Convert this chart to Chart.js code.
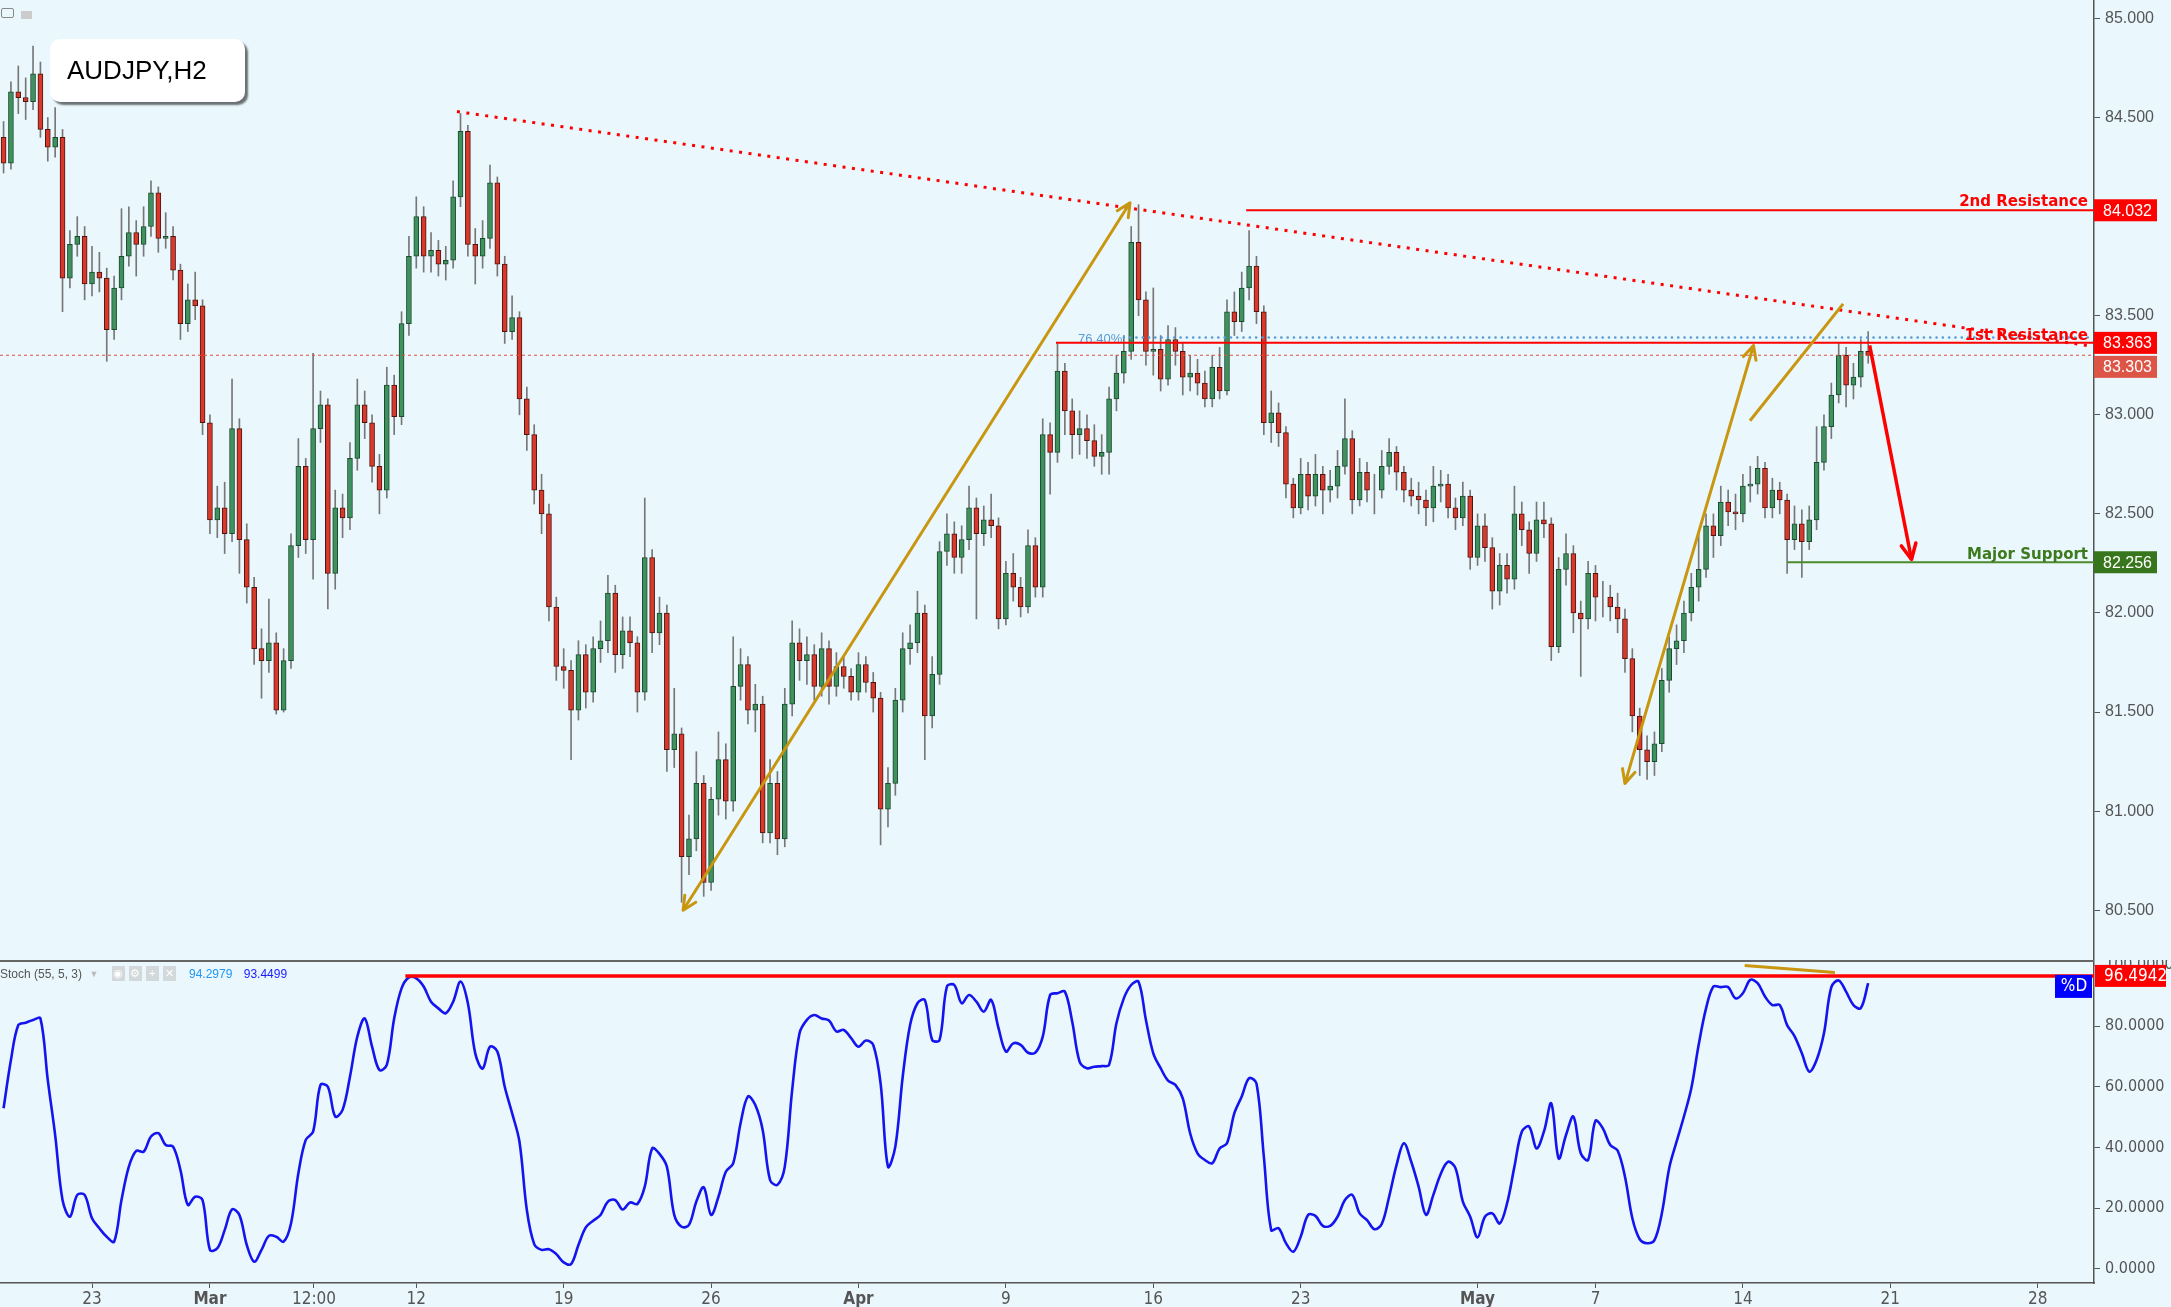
<!DOCTYPE html>
<html>
<head>
<meta charset="utf-8">
<title>AUDJPY,H2</title>
<script src="https://cdn.jsdelivr.net/npm/chart.js@4.4.1/dist/chart.umd.min.js"></script>
<style>
  html, body { margin: 0; padding: 0; background: #eaf8fd; }
  body { width: 2171px; height: 1307px; position: relative; overflow: hidden; font-family: 'Liberation Sans', Arial, sans-serif; }
  #price { position: absolute; left: 0; top: 0; }
  #stoch { position: absolute; left: 0; top: 960px; }
  .title { position: absolute; left: 50px; top: 39px; width: 195px; height: 63px; background: #fff; border-radius: 10px;
           box-shadow: 3px 3px 2px rgba(0,0,0,0.55); font-size: 26px; line-height: 63px; padding-left: 17px; box-sizing: border-box; color: #000; }
  .legend { position: absolute; left: 0; top: 966px; font-size: 12px; color: #555; white-space: nowrap; }
  .legend span { display: inline-block; vertical-align: middle; }
  .ico { width: 13px; height: 15px; background: #d3d8da; color: #fff; text-align: center; line-height: 15px; font-size: 11px; margin-right: 4px; }
  .icons { position: absolute; left: 1px; top: 8px; width: 11px; height: 8px; border: 1px solid #888; border-radius: 2px; }
  .flag { position: absolute; left: 21px; top: 11px; width: 11px; height: 8px; background: #ccc; }
</style>
</head>
<body>
<canvas id="price" width="2171" height="960"></canvas>
<canvas id="stoch" width="2171" height="347"></canvas>
<div class="icons"></div><div class="flag"></div>
<div class="title">AUDJPY,H2</div>
<div class="legend">
  <span>Stoch (55, 5, 3)</span>
  <span style="color:#bbb;margin:0 10px 0 4px;font-size:9px;">&#9660;</span>
  <span class="ico">&#9673;</span><span class="ico">&#9881;</span><span class="ico">+</span><span class="ico">&#10005;</span>
  <span style="color:#2196f3;margin-left:6px;">94.2979</span>
  <span style="color:#1a1aff;margin-left:8px;">93.4499</span>
</div>
<script>
// H2 chart resampled to 4 bars per trading day; day 0 = Mon 19 Feb 2018
const firstOpen = 84.40;
const closes = [
  84.27,84.63,84.60,84.58,84.72,84.44,84.35,84.40,83.69,83.86,83.90,83.66,83.72,83.69,83.43,83.64,83.80,83.92,83.86,83.95,
  84.12,83.89,83.90,83.73,83.46,83.58,83.55,82.96,82.47,82.53,82.40,82.93,82.37,82.13,81.82,81.76,81.85,81.51,81.76,82.34,
  82.74,82.37,82.93,83.05,82.20,82.53,82.48,82.78,83.05,82.96,82.74,82.62,83.15,82.99,83.46,83.80,84.00,83.80,83.83,83.76,
  83.78,84.10,84.43,83.86,83.80,83.89,84.17,83.76,83.42,83.49,83.08,82.90,82.62,82.50,82.03,81.73,
  81.71,81.51,81.79,81.60,81.82,81.86,82.10,81.79,81.91,81.85,81.60,82.28,81.90,82.00,81.31,81.39,80.77,80.86,81.14,80.64,
  81.06,81.26,81.05,81.63,81.74,81.51,81.54,80.89,81.14,80.86,81.54,81.85,81.76,81.79,81.63,81.82,81.63,81.73,81.68,81.60,
  81.74,81.65,81.57,81.01,81.14,81.56,81.82,81.85,82.00,81.48,81.69,82.31,82.40,82.28,82.37,82.53,82.40,82.47,82.44,81.97,
  82.20,82.13,82.03,82.34,82.13,82.90,82.81,83.22,83.02,82.90,82.93,
  82.87,82.79,82.81,83.08,83.21,83.32,83.87,83.58,83.32,83.33,83.18,83.38,83.32,83.19,83.21,83.16,83.08,83.24,83.12,83.52,
  83.47,83.64,83.75,83.52,82.96,83.01,82.91,82.65,82.53,82.70,82.59,82.70,82.62,82.64,82.74,82.88,82.57,82.71,82.62,82.62,
  82.74,82.81,82.71,82.62,82.59,82.57,82.53,82.64,82.65,82.53,82.48,82.59,82.28,82.44,82.33,82.11,82.24,82.17,82.50,82.42,
  82.30,82.47,82.45,81.83,82.22,82.30,82.00,81.97,82.20,82.08,82.08,82.03,81.97,81.77,81.48,
  81.31,81.25,81.34,81.66,81.82,81.86,82.00,82.13,82.22,82.44,82.39,82.56,82.51,82.50,82.64,82.65,82.73,82.53,82.62,82.57,
  82.37,82.45,82.36,82.47,82.76,82.94,83.10,83.30,83.15,83.19,83.32,83.30
];
const highs = [
  84.48,84.68,84.76,84.70,84.86,84.78,84.50,84.55,84.44,83.93,84.00,83.95,83.85,83.82,83.74,83.70,84.04,84.05,83.98,84.05,
  84.18,84.15,84.02,83.95,83.76,83.66,83.72,83.58,83.00,82.64,82.66,83.18,82.98,82.45,82.18,81.92,82.07,81.90,81.82,82.40,
  82.88,82.78,83.31,83.12,83.08,82.62,82.60,82.86,83.18,83.12,83.00,82.80,83.24,83.20,83.52,83.90,84.10,84.05,83.92,83.88,
  83.85,84.18,84.52,84.46,83.94,83.98,84.26,84.20,83.80,83.60,83.52,83.14,82.95,82.70,82.55,82.08,
  81.82,81.76,81.86,81.84,81.88,81.96,82.19,82.14,81.98,81.98,81.88,82.58,82.32,82.08,82.04,81.62,81.42,80.98,81.30,81.18,
  81.12,81.40,81.34,81.88,81.82,81.78,81.64,81.58,81.26,81.20,81.62,81.96,81.92,81.88,81.84,81.90,81.86,81.80,81.78,81.72,
  81.80,81.78,81.70,81.60,81.22,81.62,81.90,81.94,82.11,82.04,81.78,82.36,82.50,82.46,82.44,82.64,82.58,82.54,82.60,82.48,
  82.26,82.30,82.18,82.42,82.38,82.98,82.96,83.36,83.26,83.08,83.02,
  83.00,82.95,82.90,83.14,83.30,83.40,83.95,84.06,83.62,83.64,83.40,83.45,83.44,83.36,83.30,83.28,83.22,83.30,83.34,83.58,
  83.62,83.72,83.93,83.80,83.55,83.12,83.06,82.94,82.68,82.78,82.76,82.80,82.74,82.72,82.82,83.08,82.92,82.78,82.76,82.70,
  82.82,82.88,82.84,82.74,82.68,82.66,82.62,82.74,82.72,82.70,82.58,82.66,82.62,82.50,82.50,82.38,82.30,82.30,82.64,82.56,
  82.46,82.56,82.56,82.48,82.28,82.40,82.34,82.06,82.26,82.24,82.16,82.14,82.10,82.02,81.82,
  81.52,81.38,81.40,81.72,81.88,81.94,82.06,82.20,82.41,82.50,82.50,82.64,82.62,82.60,82.70,82.74,82.79,82.76,82.68,82.66,
  82.60,82.54,82.52,82.54,82.94,83.00,83.16,83.36,83.34,83.26,83.38,83.42
];
const lows = [
  84.22,84.24,84.52,84.49,84.54,84.40,84.28,84.30,83.52,83.64,83.80,83.58,83.60,83.62,83.27,83.38,83.58,83.75,83.70,83.80,
  83.90,83.82,83.84,83.68,83.38,83.42,83.48,82.90,82.40,82.38,82.30,82.36,82.20,82.05,81.74,81.57,81.70,81.49,81.50,81.72,
  82.28,82.30,82.17,82.86,82.02,82.12,82.38,82.42,82.72,82.88,82.66,82.50,82.58,82.90,82.95,83.40,83.74,83.72,83.72,83.70,
  83.68,83.74,84.05,83.80,83.66,83.74,83.84,83.70,83.36,83.38,83.00,82.82,82.55,82.40,81.96,81.66,
  81.62,81.26,81.46,81.52,81.55,81.75,81.80,81.70,81.72,81.78,81.50,81.56,81.80,81.84,81.20,81.22,80.54,80.68,80.80,80.57,
  80.60,80.98,80.96,81.00,81.56,81.44,81.40,80.84,80.84,80.78,80.82,81.48,81.66,81.64,81.56,81.58,81.54,81.58,81.62,81.56,
  81.56,81.60,81.50,80.83,80.92,81.08,81.50,81.74,81.80,81.26,81.42,81.64,82.24,82.20,82.20,82.32,81.97,82.34,82.38,81.92,
  81.94,82.06,81.98,82.00,82.08,82.08,82.60,82.76,82.90,82.78,82.80,
  82.78,82.74,82.70,82.70,83.02,83.16,83.28,83.50,83.25,83.20,83.12,83.15,83.25,83.10,83.12,83.10,83.04,83.04,83.08,83.10,
  83.40,83.42,83.58,83.46,82.90,82.86,82.84,82.58,82.48,82.50,82.52,82.54,82.50,82.56,82.58,82.70,82.50,82.54,82.56,82.50,
  82.58,82.70,82.62,82.56,82.54,82.50,82.44,82.46,82.56,82.48,82.42,82.44,82.22,82.24,82.26,82.02,82.04,82.10,82.12,82.34,
  82.20,82.26,82.38,81.76,81.80,82.14,81.90,81.68,81.92,81.96,81.98,81.96,81.90,81.70,81.40,
  81.18,81.16,81.18,81.30,81.60,81.74,81.80,81.96,82.06,82.18,82.28,82.34,82.44,82.42,82.46,82.56,82.60,82.48,82.48,82.50,
  82.20,82.32,82.18,82.32,82.42,82.72,82.88,83.06,83.04,83.08,83.14,83.26
];
// Stochastic %D, one value per bar
const stochD = [
  52.9,68.8,80.3,81.1,82.0,82.5,62.2,44.1,22.7,17.2,24.4,24.4,16.7,13.4,10.6,9.0,22.7,33.7,38.9,38.6,
  43.6,44.7,40.8,40.3,32.6,21.1,23.8,22.7,6.3,6.8,12.8,19.6,17.8,7.9,2.4,6.3,10.9,10.6,9.0,15.0,
  31.5,42.5,45.2,60.6,60.0,50.2,52.4,63.3,76.5,82.5,73.2,65.5,67.2,82.5,92.4,96.0,95.7,93.0,88.0,85.8,
  84.2,88.0,94.6,87.5,71.0,66.0,73.2,71.6,60.0,51.3,41.9,19.4,8.2,6.3,6.5,4.9,
  2.2,1.6,7.9,13.7,15.9,17.8,22.2,22.7,19.6,21.9,21.4,27.1,39.7,37.9,33.7,17.8,13.9,14.5,22.2,26.9,
  17.8,23.8,32.0,34.8,48.0,56.8,54.0,45.8,29.3,27.7,33.7,58.9,77.6,82.0,83.6,82.5,81.8,78.2,78.7,76.0,
  73.2,75.2,73.8,61.1,33.7,40.3,63.3,80.3,87.5,88.6,75.4,75.4,93.0,93.5,87.5,90.2,88.0,84.7,88.6,79.3,
  71.6,74.3,73.8,71.2,71.2,76.5,90.2,90.8,91.3,81.4,68.3,
  66.1,66.6,66.8,67.2,80.9,89.1,93.5,94.6,82.0,71.0,66.1,62.0,60.6,56.2,44.7,38.1,35.9,34.8,39.7,41.4,
  51.3,56.8,62.8,61.1,37.0,12.8,13.4,8.5,5.7,10.6,17.8,17.5,14.2,14.2,17.2,22.7,24.4,18.3,16.1,13.1,
  14.8,23.8,34.2,41.4,35.3,27.1,17.8,24.4,31.3,35.3,33.2,22.2,17.2,10.4,17.2,18.3,15.0,21.6,33.7,45.2,
  46.9,39.7,45.2,54.5,36.4,44.1,50.2,38.1,35.9,48.8,46.3,40.8,39.0,30.4,16.7,
  9.8,8.5,9.5,18.3,33.2,41.9,50.2,59.5,73.8,85.8,93.0,92.8,92.8,89.1,90.8,95.2,94.1,89.7,86.9,86.9,
  80.3,76.7,71.0,65.0,68.8,77.6,92.8,95.0,91.3,86.9,85.9,94.1
];
const dayTicks = [4, 8, 11.53, 15, 20, 25, 30, 35, 40, 45, 51, 55, 60, 65, 70];
const dayLabels = ['23', 'Mar', '12:00', '12', '19', '26', 'Apr', '9', '16', '23', 'May', '7', '14', '21', '28'];
const priceTicks = [80.5, 81, 81.5, 82, 82.5, 83, 83.5, 84, 84.5, 85];
const stochTicks = [0, 20, 40, 60, 80, 100];

const resistance2 = 84.032;
const resistance1 = 83.363;
const fib764 = 83.39;
const majorSupport = 82.256;
const lastPrice = 83.303;
const stochLevel = 96.4942;

const firstBarDay = 1;
const barsPerDay = 4;
const X_MIN = 0.879, X_MAX = 71.91;
const AXIS_W = 77;

const barDays = closes.map((_, i) => firstBarDay + i / barsPerDay);
const opens = closes.map((c, i) => (i === 0 ? firstOpen : closes[i - 1]));

const axisFont = "'Liberation Sans', Arial, sans-serif";
const narrowFont = "'Liberation Sans Narrow', 'DejaVu Sans Condensed', sans-serif";
const boldFont = "'DejaVu Sans', Verdana, sans-serif";

function seg(ctx, x1, y1, x2, y2, color, width, dash, cap) {
  ctx.save();
  ctx.beginPath();
  ctx.strokeStyle = color;
  ctx.lineWidth = width;
  ctx.lineCap = cap || 'butt';
  ctx.setLineDash(dash || []);
  ctx.moveTo(x1, y1);
  ctx.lineTo(x2, y2);
  ctx.stroke();
  ctx.restore();
}

function head(ctx, xt, yt, xf, yf, size, color, width) {
  const a = Math.atan2(yt - yf, xt - xf);
  ctx.save();
  ctx.strokeStyle = color;
  ctx.lineWidth = width;
  ctx.lineCap = 'round';
  ctx.lineJoin = 'round';
  ctx.beginPath();
  ctx.moveTo(xt - size * Math.cos(a - 0.45), yt - size * Math.sin(a - 0.45));
  ctx.lineTo(xt, yt);
  ctx.lineTo(xt - size * Math.cos(a + 0.45), yt - size * Math.sin(a + 0.45));
  ctx.stroke();
  ctx.restore();
}

function label(ctx, text, x, y, color, font, align) {
  ctx.save();
  ctx.font = font;
  ctx.fillStyle = color;
  ctx.textAlign = align || 'left';
  ctx.textBaseline = 'alphabetic';
  ctx.fillText(text, x, y);
  ctx.restore();
}

function axisBox(ctx, left, cy, w, text, bg, font) {
  ctx.save();
  ctx.fillStyle = bg;
  ctx.fillRect(left, cy - 11, w, 22);
  ctx.font = font;
  ctx.fillStyle = '#fff';
  ctx.textBaseline = 'middle';
  ctx.fillText(text, left + 9, cy + 1);
  ctx.restore();
}

const orange = '#c8960f';
const priceOverlay = {
  id: 'priceOverlay',
  afterDatasetsDraw(chart) {
    const { ctx, chartArea: a, scales: { x, y } } = chart;
    const px = (d) => x.getPixelForValue(d);
    const py = (p) => y.getPixelForValue(p);

    // last price, thin dotted
    seg(ctx, a.left, py(lastPrice) + 0.5, a.right, py(lastPrice) + 0.5, '#e0503c', 1, [3, 3]);
    // fibonacci 76.4%
    seg(ctx, px(39.0), py(fib764), a.right, py(fib764), '#5b9bd5', 2.6, [0.1, 6.2], 'round');
    label(ctx, '76.40%', px(37.45), py(fib764) + 5, '#5b9bd5', '13px ' + axisFont);
    // resistances / support
    seg(ctx, px(36.7), py(resistance1), a.right, py(resistance1), '#ff0000', 2);
    seg(ctx, px(43.15), py(resistance2), a.right, py(resistance2), '#ff0000', 2);
    seg(ctx, px(61.5), py(majorSupport), a.right, py(majorSupport), '#4c8a2a', 2);
    // falling trend line
    seg(ctx, px(16.38), py(84.53), px(71.67), py(83.35), '#ff0000', 3, [3, 6.5]);

    // golden swing arrows
    const swings = [
      [24.05, 80.50, 39.21, 84.07, true],
      [56.0, 81.14, 60.36, 83.35, true],
      [60.24, 82.97, 63.4, 83.56, false]
    ];
    swings.forEach(([d1, p1, d2, p2, heads]) => {
      seg(ctx, px(d1), py(p1), px(d2), py(p2), orange, 3);
      if (heads) {
        head(ctx, px(d1), py(p1), px(d2), py(p2), 15, orange, 3);
        head(ctx, px(d2), py(p2), px(d1), py(p1), 15, orange, 3);
      }
    });
    // expected drop
    seg(ctx, px(64.3), py(83.35), px(65.72), py(82.27), '#ff0000', 3.5);
    head(ctx, px(65.72), py(82.27), px(64.3), py(83.35), 17, '#ff0000', 3.5);

    // level names
    const tf = 'bold 15px ' + boldFont;
    label(ctx, '2nd Resistance', a.right - 6, py(resistance2) - 4, '#ff0000', tf, 'right');
    label(ctx, '1st Resistance', a.right - 6, py(resistance1) - 3, '#ff0000', tf, 'right');
    label(ctx, 'Major Support', a.right - 6, py(majorSupport) - 3, '#3d7a1d', tf, 'right');

    // price axis boxes
    const bf = '16px ' + axisFont;
    axisBox(ctx, a.right, py(resistance2), 63, resistance2.toFixed(3), '#ff0000', bf);
    const r1y = py(resistance1);
    axisBox(ctx, a.right, r1y, 63, resistance1.toFixed(3), '#ff0000', bf);
    axisBox(ctx, a.right, Math.max(py(lastPrice), r1y + 24), 63, lastPrice.toFixed(3), '#dc5546', bf);
    axisBox(ctx, a.right, py(majorSupport), 63, majorSupport.toFixed(3), '#38761d', bf);
  }
};

const stochOverlay = {
  id: 'stochOverlay',
  afterDatasetsDraw(chart) {
    const { ctx, chartArea: a, scales: { x, y } } = chart;
    const px = (d) => x.getPixelForValue(d);
    const py = (v) => y.getPixelForValue(v);
    seg(ctx, 0, 1, a.right, 1, '#666', 2);
    seg(ctx, px(14.63), py(stochLevel), a.right, py(stochLevel), '#ff0000', 3.5);
    seg(ctx, px(60.06), py(99.9), px(63.12), py(97.6), orange, 3);
  },
  afterDraw(chart) {
    const { ctx, chartArea: a, scales: { y } } = chart;
    const cy = y.getPixelForValue(stochLevel);
    axisBox(ctx, a.right + 1, cy, 71, stochLevel.toFixed(4), '#ff0000', '17px ' + narrowFont);
    ctx.save();
    ctx.fillStyle = '#0000ff';
    ctx.fillRect(a.right - 39, cy - 1, 37, 23);
    ctx.fillStyle = '#fff';
    ctx.font = '17px ' + narrowFont;
    ctx.textAlign = 'center';
    ctx.textBaseline = 'middle';
    ctx.fillText('%D', a.right - 20, cy + 11);
    ctx.restore();
  }
};

function fitRightAxis(scale) {
  scale.width = AXIS_W;
  scale.paddingTop = 0;
  scale.paddingBottom = 0;
}

new Chart(document.getElementById('price'), {
  type: 'bar',
  data: {
    datasets: [
      {
        data: barDays.map((d, i) => ({ x: d, y: [lows[i], highs[i]] })),
        backgroundColor: '#777',
        barThickness: 1,
        grouped: false,
        order: 2
      },
      {
        data: barDays.map((d, i) => ({ x: d, y: [opens[i], closes[i]] })),
        backgroundColor: closes.map((c, i) => (c >= opens[i] ? '#3f9160' : '#d8392b')),
        borderColor: closes.map((c, i) => (c >= opens[i] ? '#1d4a2c' : '#4d1410')),
        borderWidth: 1,
        borderSkipped: false,
        barThickness: 5,
        grouped: false,
        order: 1
      }
    ]
  },
  options: {
    responsive: false,
    animation: false,
    layout: { padding: 0 },
    plugins: { legend: { display: false }, tooltip: { enabled: false } },
    scales: {
      x: { type: 'linear', min: X_MIN, max: X_MAX, offset: false, display: false },
      y: {
        position: 'right',
        min: 80.249,
        max: 85.093,
        afterBuildTicks: (s) => { s.ticks = priceTicks.map((v) => ({ value: v })); },
        afterFit: fitRightAxis,
        ticks: { callback: (v) => Number(v).toFixed(3), color: '#555', font: { family: axisFont, size: 16 }, padding: 5 },
        grid: { drawOnChartArea: false, tickLength: 6, color: '#555' },
        border: { display: true, color: '#555', width: 1.5 }
      }
    }
  },
  plugins: [priceOverlay]
});

new Chart(document.getElementById('stoch'), {
  type: 'line',
  data: {
    datasets: [{
      data: barDays.map((d, i) => ({ x: d, y: stochD[i] })),
      borderColor: '#1414ee',
      borderWidth: 2.6,
      pointRadius: 0,
      tension: 0.35,
      fill: false
    }]
  },
  options: {
    responsive: false,
    animation: false,
    layout: { padding: 0 },
    plugins: { legend: { display: false }, tooltip: { enabled: false } },
    scales: {
      x: {
        type: 'linear',
        min: X_MIN,
        max: X_MAX,
        afterBuildTicks: (s) => { s.ticks = dayTicks.map((v) => ({ value: v })); },
        afterFit: (s) => { s.height = 24; s.paddingLeft = 0; s.paddingRight = 0; },
        ticks: {
          autoSkip: false,
          maxRotation: 0,
          padding: 1,
          color: '#555',
          callback: (v, i) => dayLabels[i],
          font: (c) => ({ family: narrowFont, size: 17, weight: ['Mar', 'Apr', 'May'].includes(dayLabels[c.index]) ? 'bold' : 'normal' })
        },
        grid: { drawOnChartArea: false, tickLength: 5, color: '#555' },
        border: { display: true, color: '#555', width: 1.5 }
      },
      y: {
        position: 'right',
        min: -4.61,
        max: 101.73,
        afterBuildTicks: (s) => { s.ticks = stochTicks.map((v) => ({ value: v })); },
        afterFit: fitRightAxis,
        ticks: { callback: (v) => Number(v).toFixed(4), color: '#555', font: { family: narrowFont, size: 16 }, padding: 5 },
        grid: { drawOnChartArea: false, tickLength: 6, color: '#555' },
        border: { display: true, color: '#555', width: 1.5 }
      }
    }
  },
  plugins: [stochOverlay]
});
</script>
</body>
</html>
